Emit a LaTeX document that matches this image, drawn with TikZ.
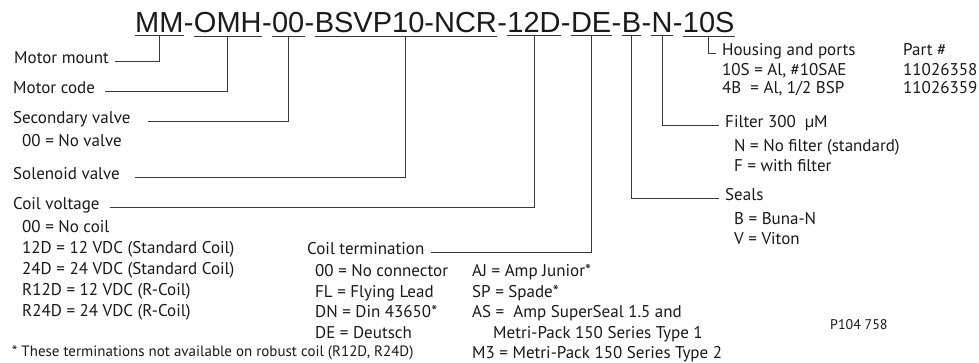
\documentclass[tikz,border=0pt]{standalone}
\usepackage{fontspec}
\setmainfont{PT Sans}
\newfontfamily\codefont{Liberation Sans}
\usetikzlibrary{positioning}
\definecolor{ink}{HTML}{1A1A1A}
\definecolor{leader}{HTML}{3A3A3A}

\begin{document}
\begin{tikzpicture}[
  x=1pt, y=-1pt,
  every node/.style={text=ink, font=\fontsize{17}{20}\selectfont},
  code/.style={font=\codefont\fontsize{29}{34}\selectfont, inner xsep=0pt, inner ysep=2.5pt, anchor=base west},
  lbl/.style={inner xsep=6pt, inner ysep=0pt, anchor=mid west},
  item/.style={inner sep=0pt, anchor=mid west},
  lead/.style={draw=leader, line width=0.9pt},
]

% Background
\fill[white] (0,0) rectangle (979,363);
\useasboundingbox (0,0) rectangle (979,363);

% ============ Part number ============
\path (135,33) node[code] (mm) {MM}
  (mm.base east)   node[code] (h1) {-}
  (h1.base east)   node[code] (omh) {OMH}
  (omh.base east)  node[code] (h2) {-}
  (h2.base east)   node[code] (sec) {00}
  (sec.base east)  node[code] (h3) {-}
  (h3.base east)   node[code] (sol) {BSVP10-NCR}
  (sol.base east)  node[code] (h4) {-}
  (h4.base east)   node[code] (volt) {12D}
  (volt.base east) node[code] (h5) {-}
  (h5.base east)   node[code] (term) {DE}
  (term.base east) node[code] (h6) {-}
  (h6.base east)   node[code] (seal) {B}
  (seal.base east) node[code] (h7) {-}
  (h7.base east)   node[code] (filt) {N}
  (filt.base east) node[code] (h8) {-}
  (h8.base east)   node[code] (hous) {10S};

% Underlines
\foreach \s in {mm,omh,sec,sol,volt,term,seal,filt,hous} {
  \draw[lead] (\s.south west) -- (\s.south east);
}

% ============ Left labels ============
\node[lbl] (mmlbl) at (8,61) {Motor mount};
\node[lbl] (omhlbl) at (7,91) {Motor code};
\node[lbl] (seclbl) at (7,121) {Secondary valve};
\node[item] (sec1) at (22,144) {00 = No valve};
\node[lbl] (sollbl) at (7,177) {Solenoid valve};
\node[lbl] (voltlbl) at (7,207) {Coil voltage};
\foreach \t [count=\k] in {00 = No coil, 12D = 12 VDC (Standard Coil), 24D = 24 VDC (Standard Coil),
  R12D = 12 VDC (R-Coil), R24D = 24 VDC (R-Coil)} {
  \node[item] (volt\k) at (22, {209+21*\k}) {\t};
}

% Coil termination
\node[lbl] (termlbl) at (301,252) {Coil termination};
\foreach \t [count=\k] in {00 = No connector, FL = Flying Lead, DN = Din 43650*, DE = Deutsch} {
  \node[item] (terma\k) at (315, {253.3+20.7*\k}) {\t};
}
\node[item] (termb1) at (472,274) {AJ = Amp Junior*};
\node[item] (termb2) at (472,295) {SP = Spade*};
\node[item] (termb3) at (472,315) {AS =\ \ Amp SuperSeal 1.5 and};
\node[item] (termb4) at (493,336) {Metri-Pack 150 Series Type 1};
\node[item] (termb5) at (472,356) {M3 = Metri-Pack 150 Series Type 2};

% ============ Right labels ============
\node[lbl] (houslbl) at (716,53) {Housing and ports};
\node[item] (hous1) at (722,73) {10S = Al, \#10SAE};
\node[item] (hous2) at (722,91) {4B\ \ = Al, 1/2 BSP};
\node[item] (part) at (903,53) {Part \#};
\node[item] (part1) at (903,73) {11026358};
\node[item] (part2) at (903,91) {11026359};

\node[lbl] (filtlbl) at (719,125) {Filter 300\hspace{9pt}µM};
\node[item] (filt1) at (734,149) {N = No filter (standard)};
\node[item] (filt2) at (734,169) {F = with filter};

\node[lbl] (seallbl) at (719,198) {Seals};
\node[item] (seal1) at (734,222) {B = Buna-N};
\node[item] (seal2) at (734,242) {V = Viton};

% Notes
\node[item, font=\fontsize{15}{18}\selectfont] (note) at (12,354)
  {* These terminations not available on robust coil (R12D, R24D)};
\node[item, font=\fontsize{14}{17}\selectfont] (fig) at (830,327) {P104 758};

% ============ Leaders ============
\draw[lead] (mmlbl.mid east) -| (mm.south);
\draw[lead] ([xshift=4pt]omhlbl.mid east) -| (omh.south);
\draw[lead] ([xshift=11pt]seclbl.mid east) -| (sec.south);
\draw[lead] ([xshift=9pt]sollbl.mid east) -| (sol.south);
\draw[lead] ([xshift=4pt]voltlbl.mid east) -| (volt.south);
\draw[lead] (termlbl.mid east) -| (term.south);
\draw[lead] (seal.south) |- (seallbl.mid west);
\draw[lead] (filt.south) |- (filtlbl.mid west);
\draw[lead] (hous.south) |- (houslbl.mid west);

\end{tikzpicture}
\end{document}
